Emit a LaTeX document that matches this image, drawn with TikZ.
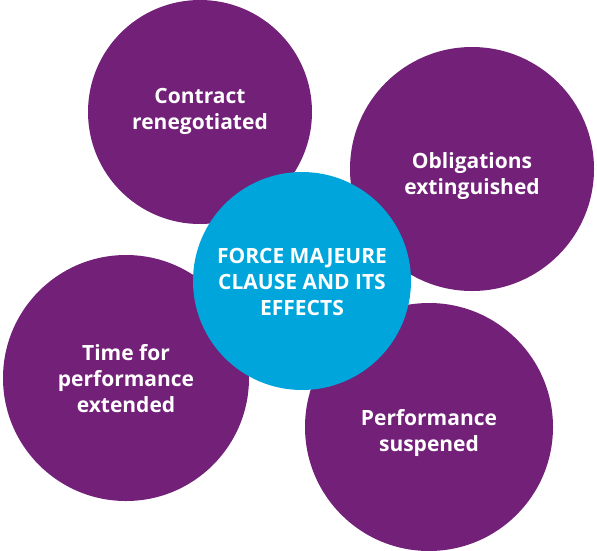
\documentclass[tikz,border=0pt]{standalone}
\usepackage{fontspec}
\setmainfont{Open Sans}
\definecolor{plum}{RGB}{114,32,120}
\definecolor{sky}{RGB}{0,166,219}
\begin{document}
\begin{tikzpicture}[x=1pt,y=-1pt,
  effect/.style={circle,fill=plum,draw=none,inner sep=0pt},
  core/.style={circle,fill=sky,draw=none,inner sep=0pt},
  lbl/.style={text=white,align=center,font=\fontsize{21}{26}\selectfont\bfseries}]
\useasboundingbox (0,0) rectangle (597,550);
\node[effect,minimum size=224pt] (c1) at (200,112) {};
\node[effect,minimum size=244pt] (c2) at (472,169) {};
\node[effect,minimum size=246pt] (c3) at (126,378) {};
\node[effect,minimum size=248pt] (c4) at (429,427) {};
\node[core,minimum size=218pt] (c0) at (302,281) {};
\node[lbl] (t1) at (200,111) {Contract\\renegotiated};
\node[lbl] (t2) at (472,176) {Obligations\\extinguished};
\node[lbl] (t3) at (126,379) {Time for\\performance\\extended};
\node[lbl] (t4) at (429,433) {Performance\\suspened};
\node[lbl] (t0) at (302,282) {FORCE MAJEURE\\CLAUSE AND ITS\\EFFECTS};
\end{tikzpicture}
\end{document}
